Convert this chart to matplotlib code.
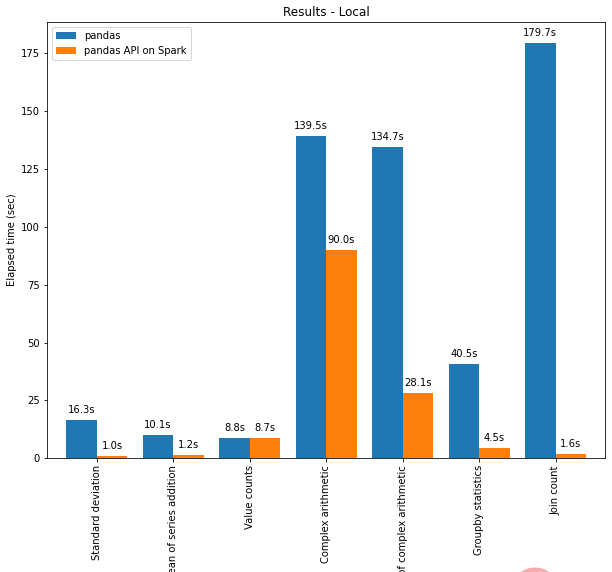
import numpy as np
import matplotlib.pyplot as plt
from matplotlib.patches import Circle

categories = ["Standard deviation", "Mean of series addition", "Value counts",
              "Complex arithmetic", "Mean of complex arithmetic",
              "Groupby statistics", "Join count"]
pandas_times = [16.3, 10.1, 8.8, 139.5, 134.7, 40.5, 179.7]
spark_times = [1.0, 1.2, 8.7, 90.0, 28.1, 4.5, 1.6]

fig = plt.figure(figsize=(612 / 72, 572 / 72), dpi=72)
ax = fig.add_axes([0.077, 0.199, 0.912, 0.763])

x = np.arange(len(categories))
w = 0.4
b1 = ax.bar(x - w / 2, pandas_times, w, color="#1f77b4", label="pandas")
b2 = ax.bar(x + w / 2, spark_times, w, color="#ff7f0e", label="pandas API on Spark")

for bars in (b1, b2):
    for r in bars:
        h = r.get_height()
        ax.annotate("%.1fs" % h, xy=(r.get_x() + r.get_width() / 2, h),
                    xytext=(0, 5), textcoords="offset points",
                    ha="center", va="bottom", fontsize=10)

ax.set_xlim(-0.65, 6.65)
ax.set_ylim(0, max(pandas_times) * 1.05)
ax.set_xticks(x)
ax.set_xticklabels(categories, rotation=90)
ax.set_ylabel("Elapsed time (sec)")
ax.set_title("Results - Local")
ax.legend(loc="upper left")

# watermark fragment at bottom edge
fig.patches.append(Circle((535, -20), 24, transform=None, color="#f4a3a3",
                          alpha=0.9, zorder=10))

fig.savefig("out.png", dpi=72)
